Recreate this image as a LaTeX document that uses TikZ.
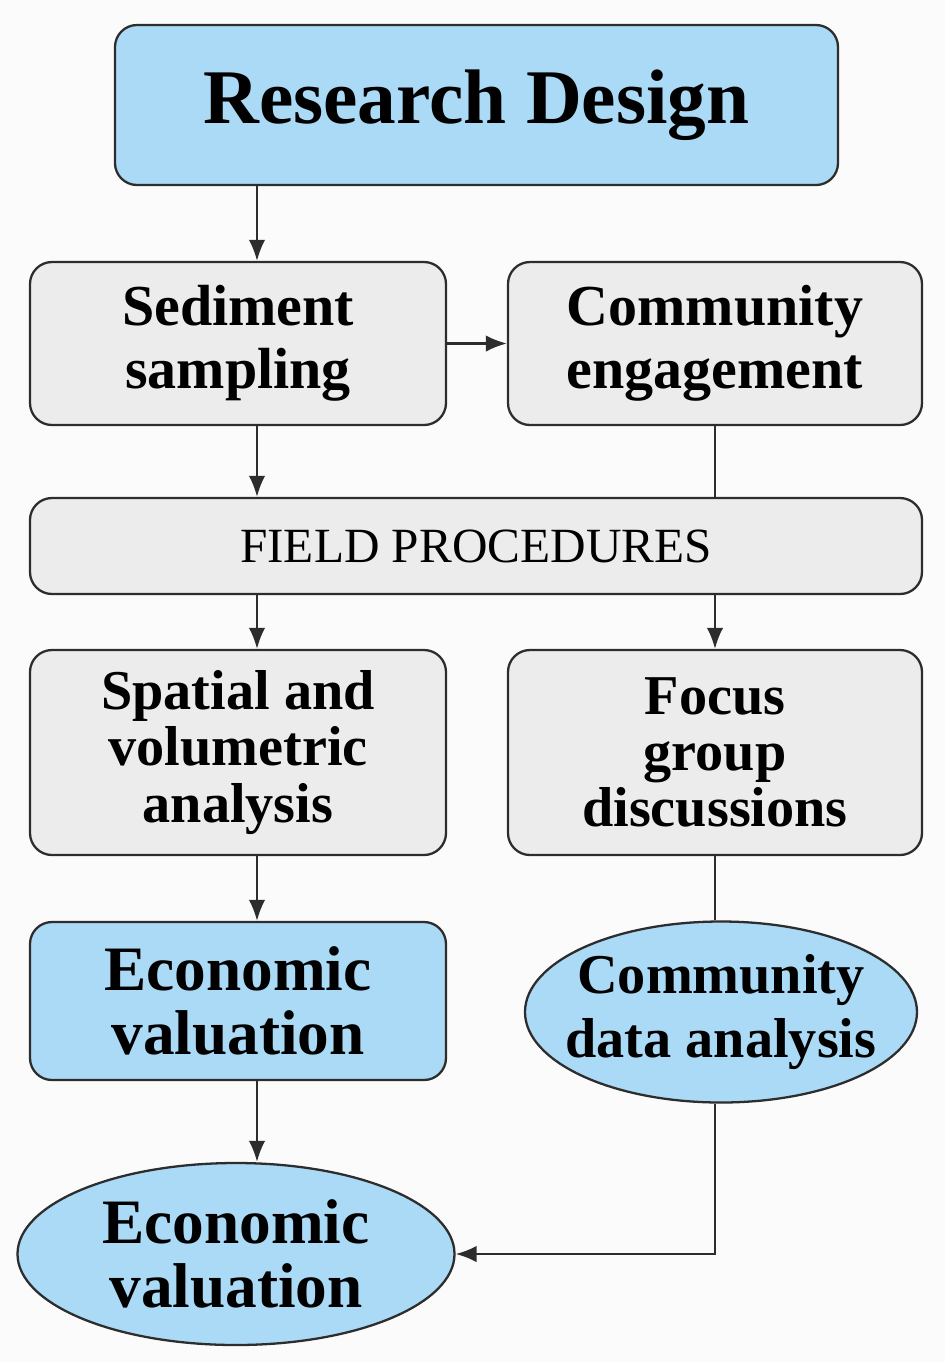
\documentclass[tikz,border=0pt]{standalone}
\usepackage{fontspec}
\setmainfont{Liberation Serif}
\usetikzlibrary{shapes.geometric, arrows.meta}
\definecolor{boxgray}{RGB}{236,236,236}
\definecolor{boxblue}{RGB}{170,218,246}
\definecolor{linegray}{RGB}{45,45,45}
\definecolor{pagebg}{RGB}{251,251,251}
\tikzset{
  box/.style={draw=linegray, line width=1.3pt, fill=boxgray, rounded corners=4.4mm,
    align=center, inner sep=0pt, font=\bfseries\fontsize{33}{36}\selectfont},
  bluebox/.style={box, fill=boxblue},
  oval/.style={draw=linegray, line width=1.3pt, fill=boxblue, ellipse, align=center,
    inner sep=0pt, font=\bfseries\fontsize{32}{36}\selectfont},
  link/.style={draw=linegray, line width=1.3pt},
  >={Latex[length=4.2mm, width=3.3mm]}
}
\begin{document}
\begin{tikzpicture}[x=0.2mm, y=-0.2mm]
          % page
          \fill[pagebg] (0,0) rectangle (945,1362);
          \useasboundingbox (0,0) rectangle (945,1362);

          % top box
          \node[bluebox, minimum width=144.6mm, minimum height=32mm,
            font=\bfseries\fontsize{44}{48}\selectfont] (design) at (476.5,105) {Research Design};

          % first row
          \node[box, minimum width=83.2mm, minimum height=32.6mm] (sediment) at (238,343.5) {Sediment\\sampling};
          \node[box, minimum width=82.8mm, minimum height=32.6mm] (engage) at (715,343.5) {Community\\engagement};

          \node[box, minimum width=178.4mm, minimum height=19.2mm,
            font=\fontsize{28}{30}\selectfont] (field) at (476,546) {FIELD PROCEDURES};

          % second row
          \node[box, minimum width=83.2mm, minimum height=41mm,
            font=\bfseries\fontsize{32}{32}\selectfont] (spatial) at (238,752.5) {Spatial and\\volumetric\\analysis};
          \node[box, minimum width=82.8mm, minimum height=41mm,
            font=\bfseries\fontsize{32}{32}\selectfont] (focus) at (715,752.5) {Focus\\group\\discussions};

          % outputs
          \node[bluebox, minimum width=83.2mm, minimum height=31.6mm,
            font=\bfseries\fontsize{36}{36}\selectfont] (econbox) at (238,1001) {Economic\\valuation};
          \node[oval, inner xsep=-3.6mm, minimum width=78.4mm, minimum height=36.2mm] (cdata) at (721,1012) {Community\\data analysis};
          \node[oval, minimum width=87.4mm, minimum height=36.4mm,
            font=\bfseries\fontsize{36}{36}\selectfont] (econoval) at (236,1254) {Economic\\valuation};

          \coordinate (leftx) at (257,0);

          % connectors
          \draw[link, ->] (design.south -| leftx) -- (sediment.north -| leftx);
          \draw[link, ->] (sediment.east) -- (engage.west);
          \draw[link, ->] (sediment.south -| leftx) -- (field.north -| leftx);
          \draw[link] (engage.south) -- (field.north -| engage.south);
          \draw[link, ->] (field.south -| leftx) -- (spatial.north -| leftx);
          \draw[link, ->] (field.south -| focus.north) -- (focus.north);
          \draw[link, ->] (spatial.south -| leftx) -- (econbox.north -| leftx);
          \draw[link] (focus.south) -- (cdata.north -| focus.south);
          \draw[link, ->] (econbox.south -| leftx) -- (econoval.north -| leftx);
          \draw[link, ->] (cdata.south -| focus.south) |- (econoval.east);
        \end{tikzpicture}
\end{document}
